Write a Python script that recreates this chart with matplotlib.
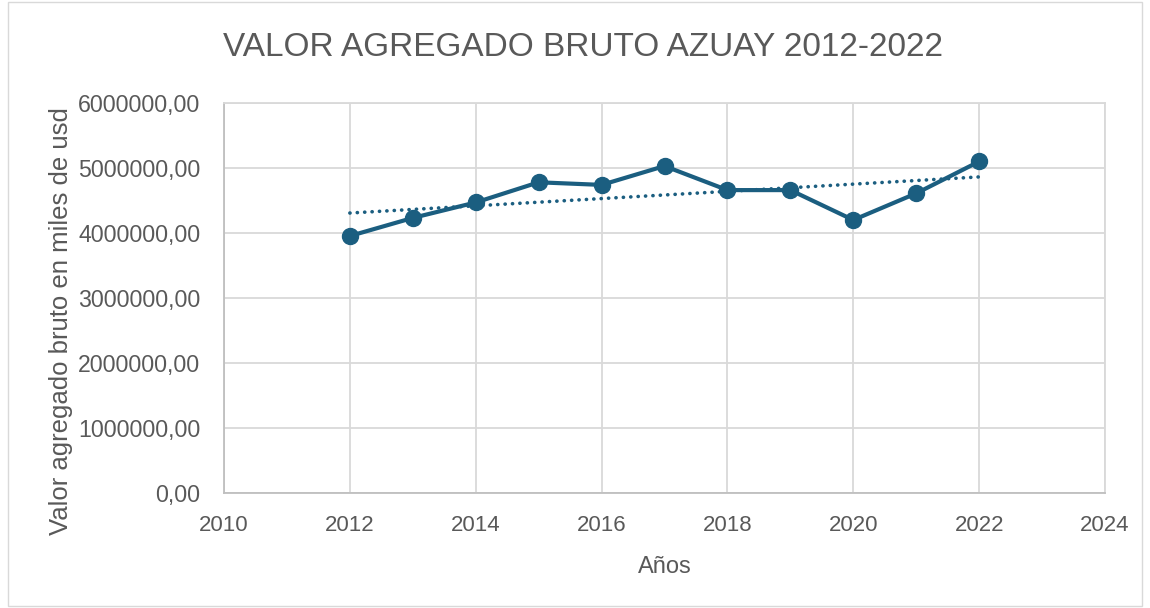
import numpy as np
import matplotlib
matplotlib.use("Agg")
import matplotlib.pyplot as plt
from matplotlib.patches import Rectangle
from matplotlib.ticker import FuncFormatter

years = [2012, 2013, 2014, 2015, 2016, 2017, 2018, 2019, 2020, 2021, 2022]
valor = [3954000, 4232000, 4470000, 4780000, 4740000, 5030000,
         4660000, 4660000, 4200000, 4610000, 5100000]
title = "VALOR AGREGADO BRUTO AZUAY 2012-2022"
xlabel = "Años"
ylabel = "Valor agregado bruto en miles de usd"

color = "#1B5E80"
txt = "#595959"
grid = "#D9D9D9"

plt.rcParams['font.family'] = ['Liberation Sans', 'DejaVu Sans']

fig = plt.figure(figsize=(11.5, 6.08), dpi=100)
ax = fig.add_axes([224/1150, 1-493/608, (1105-224)/1150, (493-103)/608])

fig.patches.append(Rectangle((8/1150, 0.003), 1-16/1150, 0.994, transform=fig.transFigure,
                             fill=False, edgecolor=grid, linewidth=1))

# trendline (linear fit)
coef = np.polyfit(years, valor, 1)
tx = np.array([years[0], years[-1]])
ax.plot(tx, np.polyval(coef, tx), color=color, linewidth=2.6,
        linestyle=(0, (0.05, 2.0)), dash_capstyle='round', zorder=2)

ax.plot(years, valor, color=color, linewidth=3, marker='o', markersize=11.5, zorder=3)

ax.set_xlim(2010, 2024)
ax.set_ylim(0, 6000000)
ax.set_xticks(range(2010, 2025, 2))
ax.set_yticks(range(0, 6000001, 1000000))
ax.yaxis.set_major_formatter(FuncFormatter(lambda v, p: f"{int(v)},00"))
ax.grid(True, color=grid, linewidth=1.3)
ax.set_axisbelow(True)
for s in ax.spines.values():
    s.set_color(grid)
    s.set_linewidth(1.3)
ax.spines['left'].set_color('#BFBFBF')
ax.spines['bottom'].set_color('#BFBFBF')
ax.tick_params(length=0, labelcolor=txt)
ax.tick_params(axis='y', labelsize=16.7, pad=17)
ax.tick_params(axis='x', labelsize=16, pad=16)

ax.set_xlabel(xlabel, fontsize=17, color=txt, labelpad=14)
ax.set_ylabel(ylabel, fontsize=18.5, color=txt, va='center')
ax.yaxis.set_label_coords(-0.185, 1 - (321 - 103) / 390)
fig.text(583/1150, 1-48/608, title, fontsize=24, color=txt,
         ha='center', va='center')

fig.savefig("out.png", dpi=100)
